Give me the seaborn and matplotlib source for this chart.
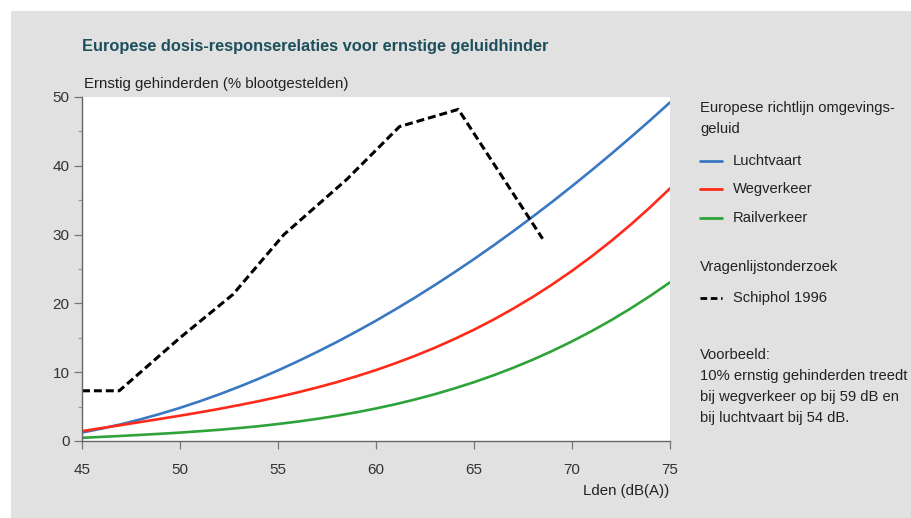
import pandas as pd
import seaborn as sns
import matplotlib
matplotlib.use('Agg')
from matplotlib import pyplot as plt
from matplotlib.lines import Line2D
from matplotlib.patches import Rectangle

# waarden (per dB)
lden = list(range(45, 76))
luchtvaart = [1.23, 1.80, 2.44, 3.16, 3.95, 4.82, 5.76, 6.78, 7.87, 9.03,
              10.26, 11.57, 12.95, 14.39, 15.91, 17.49, 19.15, 20.87, 22.66, 24.52,
              26.44, 28.43, 30.49, 32.61, 34.79, 37.04, 39.35, 41.72, 44.16, 46.65, 49.21]
wegverkeer = [1.43, 1.88, 2.32, 2.77, 3.22, 3.68, 4.16, 4.67, 5.21, 5.78,
              6.39, 7.06, 7.78, 8.55, 9.40, 10.31, 11.31, 12.39, 13.55, 14.82,
              16.18, 17.65, 19.24, 20.94, 22.77, 24.73, 26.83, 29.07, 31.46, 34.01, 36.71]
railverkeer = [0.46, 0.60, 0.74, 0.89, 1.05, 1.22, 1.42, 1.63, 1.88, 2.15,
               2.47, 2.82, 3.22, 3.67, 4.17, 4.73, 5.35, 6.04, 6.80, 7.64,
               8.55, 9.55, 10.64, 11.82, 13.10, 14.48, 15.97, 17.56, 19.28, 21.11, 23.06]

schiphol_lden = [45, 46.9, 50, 52.7, 55.3, 58.5, 61.2, 64.2, 68.5]
schiphol = [7.3, 7.3, 15.0, 21.3, 30.0, 38.0, 45.7, 48.2, 29.4]

series = ['Luchtvaart', 'Wegverkeer', 'Railverkeer']
colors = ['#3b78c2', '#ff2a1a', '#2ea33a']

df = pd.DataFrame({'lden': lden * 3,
                   'pct': luchtvaart + wegverkeer + railverkeer,
                   'bron': [s for s in series for _ in lden]})

sns.set_style('white')
plt.rcParams['font.family'] = ['Liberation Sans', 'DejaVu Sans']

fig = plt.figure(figsize=(9.12, 5.18), dpi=100)
fig.patch.set_facecolor('white')
fig.add_artist(Rectangle((11 / 912, 0), 1, (518 - 11) / 518, transform=fig.transFigure,
                         facecolor='#e1e1e1', edgecolor='none', zorder=0))

ax = fig.add_axes([82 / 912, 1 - 441 / 518, 588 / 912, 344 / 518])
ax.set_facecolor('white')

sns.lineplot(data=df, x='lden', y='pct', hue='bron', palette=dict(zip(series, colors)),
             linewidth=1.9, legend=False, ax=ax)
sns.lineplot(x=schiphol_lden, y=schiphol, color='black', linewidth=2.2,
             dashes=False, ax=ax).lines[-1].set_dashes((2.6, 1.3))

ax.set_xlim(45, 75)
ax.set_ylim(0, 50)
ax.set_xticks(range(45, 76, 5))
ax.set_yticks(range(0, 51, 10))
ax.set_yticks(range(5, 50, 10), minor=True)
ax.set_xlabel('')
ax.set_ylabel('')
for s in ['top', 'right']:
    ax.spines[s].set_visible(False)
for s in ['left', 'bottom']:
    ax.spines[s].set_color('#666666')
    ax.spines[s].set_linewidth(1.0)
ax.tick_params(axis='both', which='major', direction='out', length=6, width=0.9,
               color='#777777', labelsize=11, labelcolor='#333333', pad=3, left=True, bottom=True)
ax.tick_params(axis='y', which='minor', direction='out', length=3, width=0.8,
               color='#999999', left=True)
ax.tick_params(axis='x', pad=10)

fig.text(82 / 912, 1 - 47 / 518, 'Europese dosis-responserelaties voor ernstige geluidhinder',
         fontsize=11.8, fontweight='bold', color='#1d4f5c', va='center', ha='left')
fig.text(84 / 912, 1 - 84 / 518, 'Ernstig gehinderden (% blootgestelden)',
         fontsize=10.8, color='#222222', va='center', ha='left')
fig.text(669 / 912, 1 - 491 / 518, 'Lden (dB(A))', fontsize=10.8, color='#222222',
         va='center', ha='right')

# legenda
def ftext(x, y, s):
    fig.text(x / 912, 1 - y / 518, s, fontsize=10.6, color='#222222', va='center', ha='left')

def fkey(y, color, dashed=False):
    ln = Line2D([700 / 912, 722 / 912], [1 - y / 518] * 2, transform=fig.transFigure,
                color=color, linewidth=2.0)
    if dashed:
        ln.set_dashes((2.4, 1.3))
    fig.add_artist(ln)

ftext(700, 108, 'Europese richtlijn omgevings-')
ftext(700, 129, 'geluid')
for y, s, c in zip([161, 189, 218], series, colors):
    fkey(y, c)
    ftext(733, y, s)
ftext(700, 267, 'Vragenlijstonderzoek')
fkey(298, 'black', dashed=True)
ftext(733, 298, 'Schiphol 1996')
ftext(700, 355, 'Voorbeeld:')
ftext(700, 376, '10% ernstig gehinderden treedt')
ftext(700, 397, 'bij wegverkeer op bij 59 dB en')
ftext(700, 418, 'bij luchtvaart bij 54 dB.')

fig.savefig('out.png', dpi=100)
